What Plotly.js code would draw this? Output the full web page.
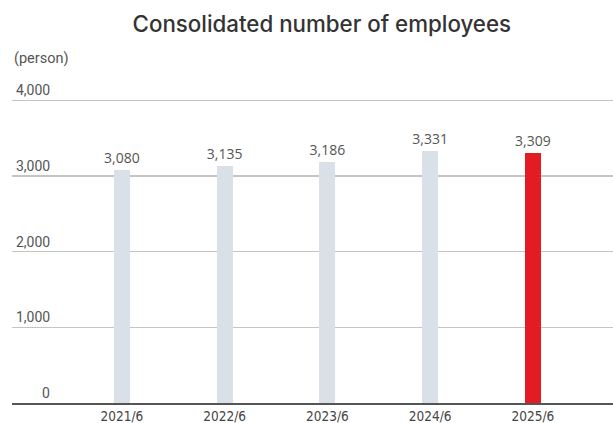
<!DOCTYPE html>
<html><head><meta charset="utf-8">
<script src="https://cdn.plot.ly/plotly-3.0.1.min.js"></script>
<style>html,body{margin:0;padding:0;background:#fff}#chart{width:613px;height:423px}</style>
</head><body><div id="chart"></div>
<script>
const categories = ["2021/6", "2022/6", "2023/6", "2024/6", "2025/6"];
const employees = [3080, 3135, 3186, 3331, 3309];
const barColors = ["#d9e0e7", "#d9e0e7", "#d9e0e7", "#d9e0e7", "#e31b23"];
const yTickVals = [0, 1000, 2000, 3000, 4000];
const yTickText = ["0", "1,000", "2,000", "3,000", "4,000"];

const trace = {
  type: "bar",
  x: categories,
  y: employees,
  width: 0.155,
  marker: {color: barColors},
  text: employees.map(v => v.toLocaleString("en-US")),
  textposition: "outside",
  constraintext: "none",
  textfont: {family: "Open Sans, sans-serif", size: 14, color: "#555"},
  cliponaxis: false,
  hoverinfo: "none"
};

const annotations = yTickVals.map((v, i) => ({
  xref: "paper", yref: "y", x: 0.0665, y: v,
  xanchor: "right", yanchor: "bottom", yshift: 0,
  text: yTickText[i], showarrow: false,
  font: {family: "Roboto, sans-serif", size: 14, color: "#555"}
}));
annotations.push({
  xref: "paper", yref: "paper", x: 0.0, y: 1.0, yshift: 40,
  xanchor: "left", yanchor: "middle", text: "(person)", showarrow: false,
  font: {family: "Roboto, sans-serif", size: 14.5, color: "#555"}
});

const layout = {
  width: 613, height: 423,
  margin: {l: 12, r: 0, t: 98, b: 20},
  paper_bgcolor: "#fff", plot_bgcolor: "#fff",
  showlegend: false,
  title: {text: "Consolidated number of employees", x: 0.525, xanchor: "center", y: 0.942, yanchor: "middle",
          font: {family: "Inter, sans-serif", size: 22.3, weight: 500, color: "#333"}},
  xaxis: {range: [-1.07, 4.78], showgrid: false, showline: true, linecolor: "#555", linewidth: 1.5,
          ticks: "", ticklabelstandoff: 0,
          tickfont: {family: "DejaVu Sans Condensed, sans-serif", size: 13.5, color: "#444"}, fixedrange: true},
  yaxis: {range: [0, 4030], tickvals: yTickVals, showticklabels: false, showgrid: true, gridcolor: "#c4c4c4",
          gridwidth: 1.2, zeroline: false, fixedrange: true},
  annotations: annotations,
  bargap: 0
};
Plotly.newPlot("chart", [trace], layout, {displayModeBar: false, staticPlot: true});
</script></body></html>
